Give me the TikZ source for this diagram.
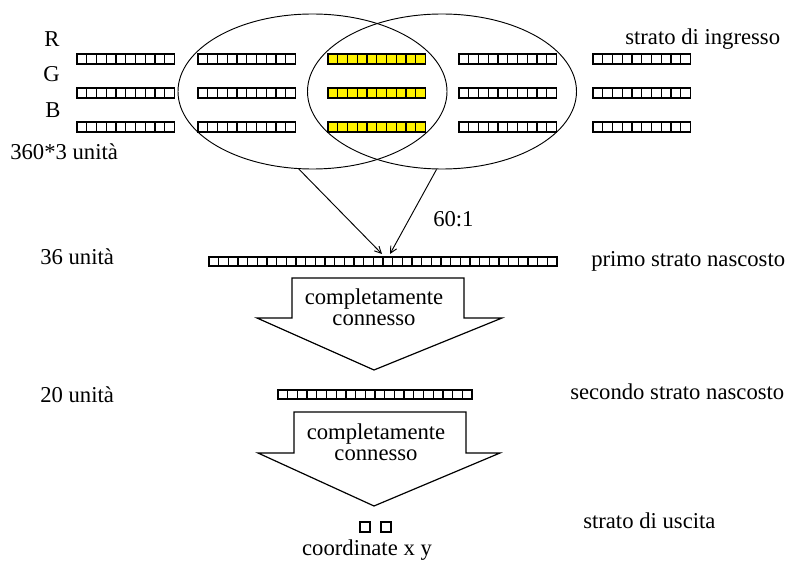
\documentclass[tikz,border=0pt]{standalone}
\usepackage{fontspec}
\setmainfont{Liberation Serif}
\usetikzlibrary{positioning,arrows.meta,calc,shapes.geometric}
\definecolor{cellYellow}{HTML}{FFF200}

\begin{document}
\begin{tikzpicture}[x=0.75pt,y=-0.75pt,
    txt/.style={font=\fontsize{17}{16}\selectfont,inner sep=0pt,anchor=base west},
    cell/.style={draw,line width=1pt,inner sep=0pt,minimum width=7.3pt,minimum height=7.5pt},
    lens/.style={draw,ellipse,line width=0.7pt,inner sep=0pt,minimum width=201.75pt,minimum height=116.25pt},
    feed/.style={-{Straight Barb[length=5pt,width=5pt]},line width=0.7pt},
    fatarrow/.style={draw,line width=0.9pt,line join=miter},
    fattext/.style={font=\fontsize{17}{16}\selectfont,align=center,inner sep=0pt}]
  \useasboundingbox (0,0) rectangle (794,563);
  % input layer: R, G, B rows, five blocks of ten units
  \foreach \r/\yy in {1/59,2/93,3/127}{
    \foreach \b/\xx/\col in {1/77/white,2/198/white,3/328/cellYellow,4/459/white,5/593/white}{
      \foreach \k in {0,...,9}
        \node[cell,fill=\col] (in\r\b-\k) at (\xx+4.875+\k*9.75,\yy) {};
    }}
  \node[lens] (fovL) at (312.5,91.5) {};
  \node[lens] (fovR) at (442,91.5) {};
  \node[txt] (lR) at (44,47) {R};
  \node[txt] (lG) at (43,82) {G};
  \node[txt] (lB) at (45,118) {B};
  \node[txt] (nIn) at (10,160) {360*3 unità};
  \node[txt] (sIn) at (625,45) {strato di ingresso};

  % first hidden layer
  \foreach \k in {0,...,35}
    \node[cell,minimum width=7.25pt,minimum height=6.75pt] (h1-\k) at (213.83+\k*9.667,261.5) {};
  \coordinate (inL) at (382,254);
  \coordinate (inR) at (390,254);
  \draw[feed] (fovL.260) -- (inL);
  \draw[feed] (fovR.266) -- (inR);
  \node[txt] (ratio) at (433,227) {60:1};
  \node[txt] (n36) at (40,265) {36 unità};
  \node[txt] (sH1) at (591,267) {primo strato nascosto};

  \draw[fatarrow] (292,278) -- (464,278) -- (464,318) -- (502,318) -- (374,370) -- (257,318) -- (292,318) -- cycle;
  \node[fattext] (full1) at (374,307.5) {completamente\\connesso};

  % second hidden layer
  \foreach \k in {0,...,19}
    \node[cell,minimum width=7.275pt,minimum height=6.75pt] (h2-\k) at (282.85+\k*9.7,394.5) {};
  \node[txt] (n20) at (40,403) {20 unità};
  \node[txt] (sH2) at (570,400) {secondo strato nascosto};

  \draw[fatarrow] (294,412) -- (466,412) -- (466,453) -- (500,453) -- (374,506) -- (258,453) -- (294,453) -- cycle;
  \node[fattext] (full2) at (376,442) {completamente\\connesso};

  % output layer
  \node[cell] (outX) at (365,527) {};
  \node[cell] (outY) at (386,527) {};
  \node[txt] (sOut) at (583,528) {strato di uscita};
  \node[txt,anchor=base] (coords) at (367,556) {coordinate x y};
\end{tikzpicture}
\end{document}
